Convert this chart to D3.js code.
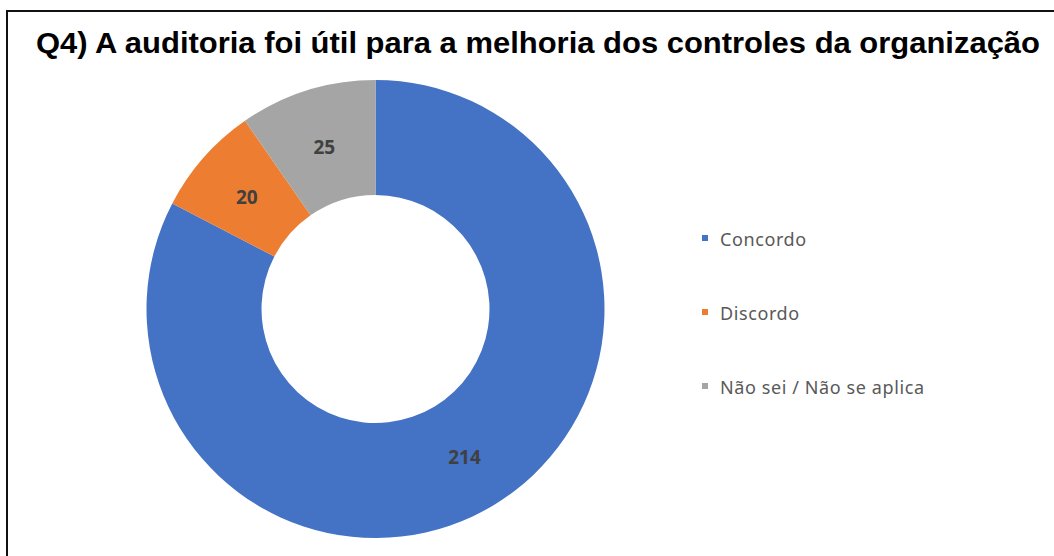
<!DOCTYPE html>
<html>
<head>
<meta charset="utf-8">
<script src="https://cdn.jsdelivr.net/npm/d3@7"></script>
<style>
  html, body { margin: 0; padding: 0; background: #fff; }
  svg { display: block; }
</style>
</head>
<body>
<svg id="chart" width="1054" height="556"></svg>
<script>
const title = "Q4) A auditoria foi útil para a melhoria dos controles da organização";
const categories = ["Concordo", "Discordo", "Não sei / Não se aplica"];
const values = [214, 20, 25];
const colors = ["#4472C4", "#ED7D31", "#A5A5A5"];

const width = 1054;
const height = 556;
const svg = d3.select("#chart");

// frame (only top + left edges visible in the crop)
svg.append("line")
  .attr("x1", 7).attr("x2", width)
  .attr("y1", 11).attr("y2", 11)
  .attr("stroke", "#111").attr("stroke-width", 2);
svg.append("line")
  .attr("x1", 7).attr("x2", 7)
  .attr("y1", 10).attr("y2", height)
  .attr("stroke", "#111").attr("stroke-width", 2);

svg.append("text")
  .attr("x", 36)
  .attr("y", 53)
  .attr("font-family", "'Liberation Sans', Arial, sans-serif")
  .attr("font-weight", "bold")
  .attr("font-size", 29)
  .attr("fill", "#000")
  .attr("textLength", 1004)
  .attr("lengthAdjust", "spacingAndGlyphs")
  .text(title);

const data = categories.map((c, i) => ({ name: c, value: values[i], color: colors[i] }));

const cx = 375.5, cy = 309;
const outerR = 229, innerR = 114;

const pie = d3.pie().sort(null).value((d) => d.value);
const arc = d3.arc().innerRadius(innerR).outerRadius(outerR);

const g = svg.append("g").attr("transform", `translate(${cx}, ${cy})`);

g.selectAll("path")
  .data(pie(data))
  .join("path")
  .attr("d", arc)
  .attr("fill", (d) => d.data.color);

g.selectAll("text")
  .data(pie(data))
  .join("text")
  .attr("transform", (d) => `translate(${arc.centroid(d)})`)
  .attr("text-anchor", "middle")
  .attr("dy", "0.45em")
  .attr("font-family", "'Noto Sans', 'Open Sans', sans-serif")
  .attr("font-weight", "bold")
  .attr("font-size", 19)
  .attr("fill", "#404040")
  .text((d) => d.data.value);

// legend
const legendY = d3.scalePoint().domain(categories).range([238, 386]);
const legend = svg.append("g");
const items = legend.selectAll("g")
  .data(data)
  .join("g")
  .attr("transform", (d) => `translate(702, ${legendY(d.name)})`);

items.append("rect")
  .attr("x", 0).attr("y", -3)
  .attr("width", 6).attr("height", 6)
  .attr("fill", (d) => d.color);

items.append("text")
  .attr("x", 18)
  .attr("dy", "0.42em")
  .attr("font-family", "'Noto Sans', 'Open Sans', sans-serif")
  .attr("font-size", 18)
  .attr("letter-spacing", 0.6)
  .attr("fill", "#595959")
  .text((d) => d.name);
</script>
</body>
</html>
